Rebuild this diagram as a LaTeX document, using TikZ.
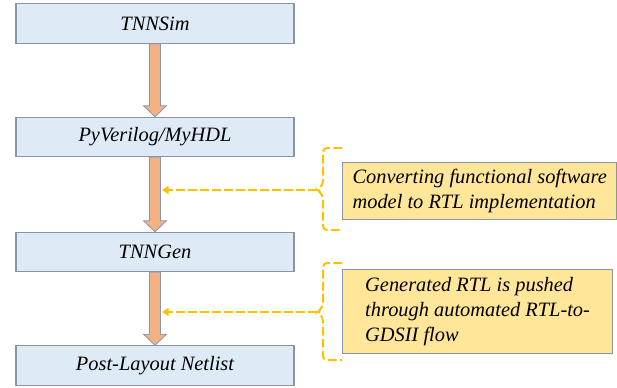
\documentclass[tikz,border=0pt]{standalone}
\usepackage{fontspec}
\setmainfont{Liberation Serif}
\usetikzlibrary{arrows.meta,calc}

\definecolor{stagefill}{HTML}{DEEBF7}
\definecolor{stageedge}{HTML}{8A94A3}
\definecolor{flowfill}{HTML}{F4B183}
\definecolor{flowedge}{HTML}{8497B0}
\definecolor{notefill}{HTML}{FFE699}
\definecolor{dashgold}{HTML}{FFC000}

\tikzset{
  stage/.style={draw=stageedge,fill=stagefill,line width=0.9pt,
    minimum width=208.5pt,minimum height=29.5pt,inner sep=0pt,
    font=\fontsize{15.3}{18.5}\selectfont\itshape},
  note/.style={draw=stageedge,fill=notefill,line width=0.9pt,anchor=north west,
    minimum width=202.5pt,inner xsep=7.5pt,inner ysep=0pt,align=left,
    font=\fontsize{15.3}{18.5}\selectfont\itshape},
  flowarr/.style={draw=flowedge,fill=flowfill,line width=0.6pt},
  bracket/.style={draw=dashgold,line width=1.5pt,dash pattern=on 6.5pt off 2.5pt,rounded corners=3pt},
  hint/.style={draw=dashgold,line width=1.5pt,dash pattern=on 6.5pt off 2.5pt,-{Triangle[length=5pt,width=6pt]}}
}

% fat arrow from bottom of #1 to top of #2
\newcommand{\flowarrow}[2]{%
  \draw[flowarr] ($(#1.south)+(-5.5,0)$) -- ($(#2.north)+(-5.5,-11)$)
    -- ($(#2.north)+(-11.5,-11)$) -- (#2.north) -- ($(#2.north)+(11.5,-11)$)
    -- ($(#2.north)+(5.5,-11)$) -- ($(#1.south)+(5.5,0)$) -- cycle;}

\begin{document}
\begin{tikzpicture}[x=0.75pt,y=-0.75pt]
    \useasboundingbox (0,0) rectangle (617,387);

    % flow stages
    \node[stage] (sim) at (155,23.5) {TNNSim};
    \node[stage] (hdl) at (155,137) {PyVerilog/MyHDL};
    \node[stage] (gen) at (155,252) {TNNGen};
    \node[stage] (net) at (155,365.5) {Post-Layout Netlist};

    \flowarrow{sim}{hdl}
    \flowarrow{hdl}{gen}
    \flowarrow{gen}{net}

    % notes
    \node[note,minimum height=42.75pt] (convnote) at (342,162)
      {Converting functional software\\model to RTL implementation};
    \node[note,minimum height=63pt] (gdsnote) at (342,269)
      {Generated RTL is pushed\\through automated RTL-to-\\GDSII flow};

    % brackets and dashed pointers
    \draw[bracket] (convnote.north west |- 0,148) -- (323,148) -- (323,185)
      -- (317,190) -- (323,195) -- (323,230) -- (convnote.south west |- 0,230);
    \coordinate (convtip) at (317,190);
    \coordinate (convend) at (162,190);
    \draw[hint] (convtip) -- (convend);

    \draw[bracket] (gdsnote.north west |- 0,263) -- (323,263) -- (323,307)
      -- (317,312) -- (323,317) -- (323,360) -- (gdsnote.south west |- 0,360);
    \coordinate (gdstip) at (317,312);
    \coordinate (gdsend) at (162,312);
    \draw[hint] (gdstip) -- (gdsend);
\end{tikzpicture}
\end{document}
